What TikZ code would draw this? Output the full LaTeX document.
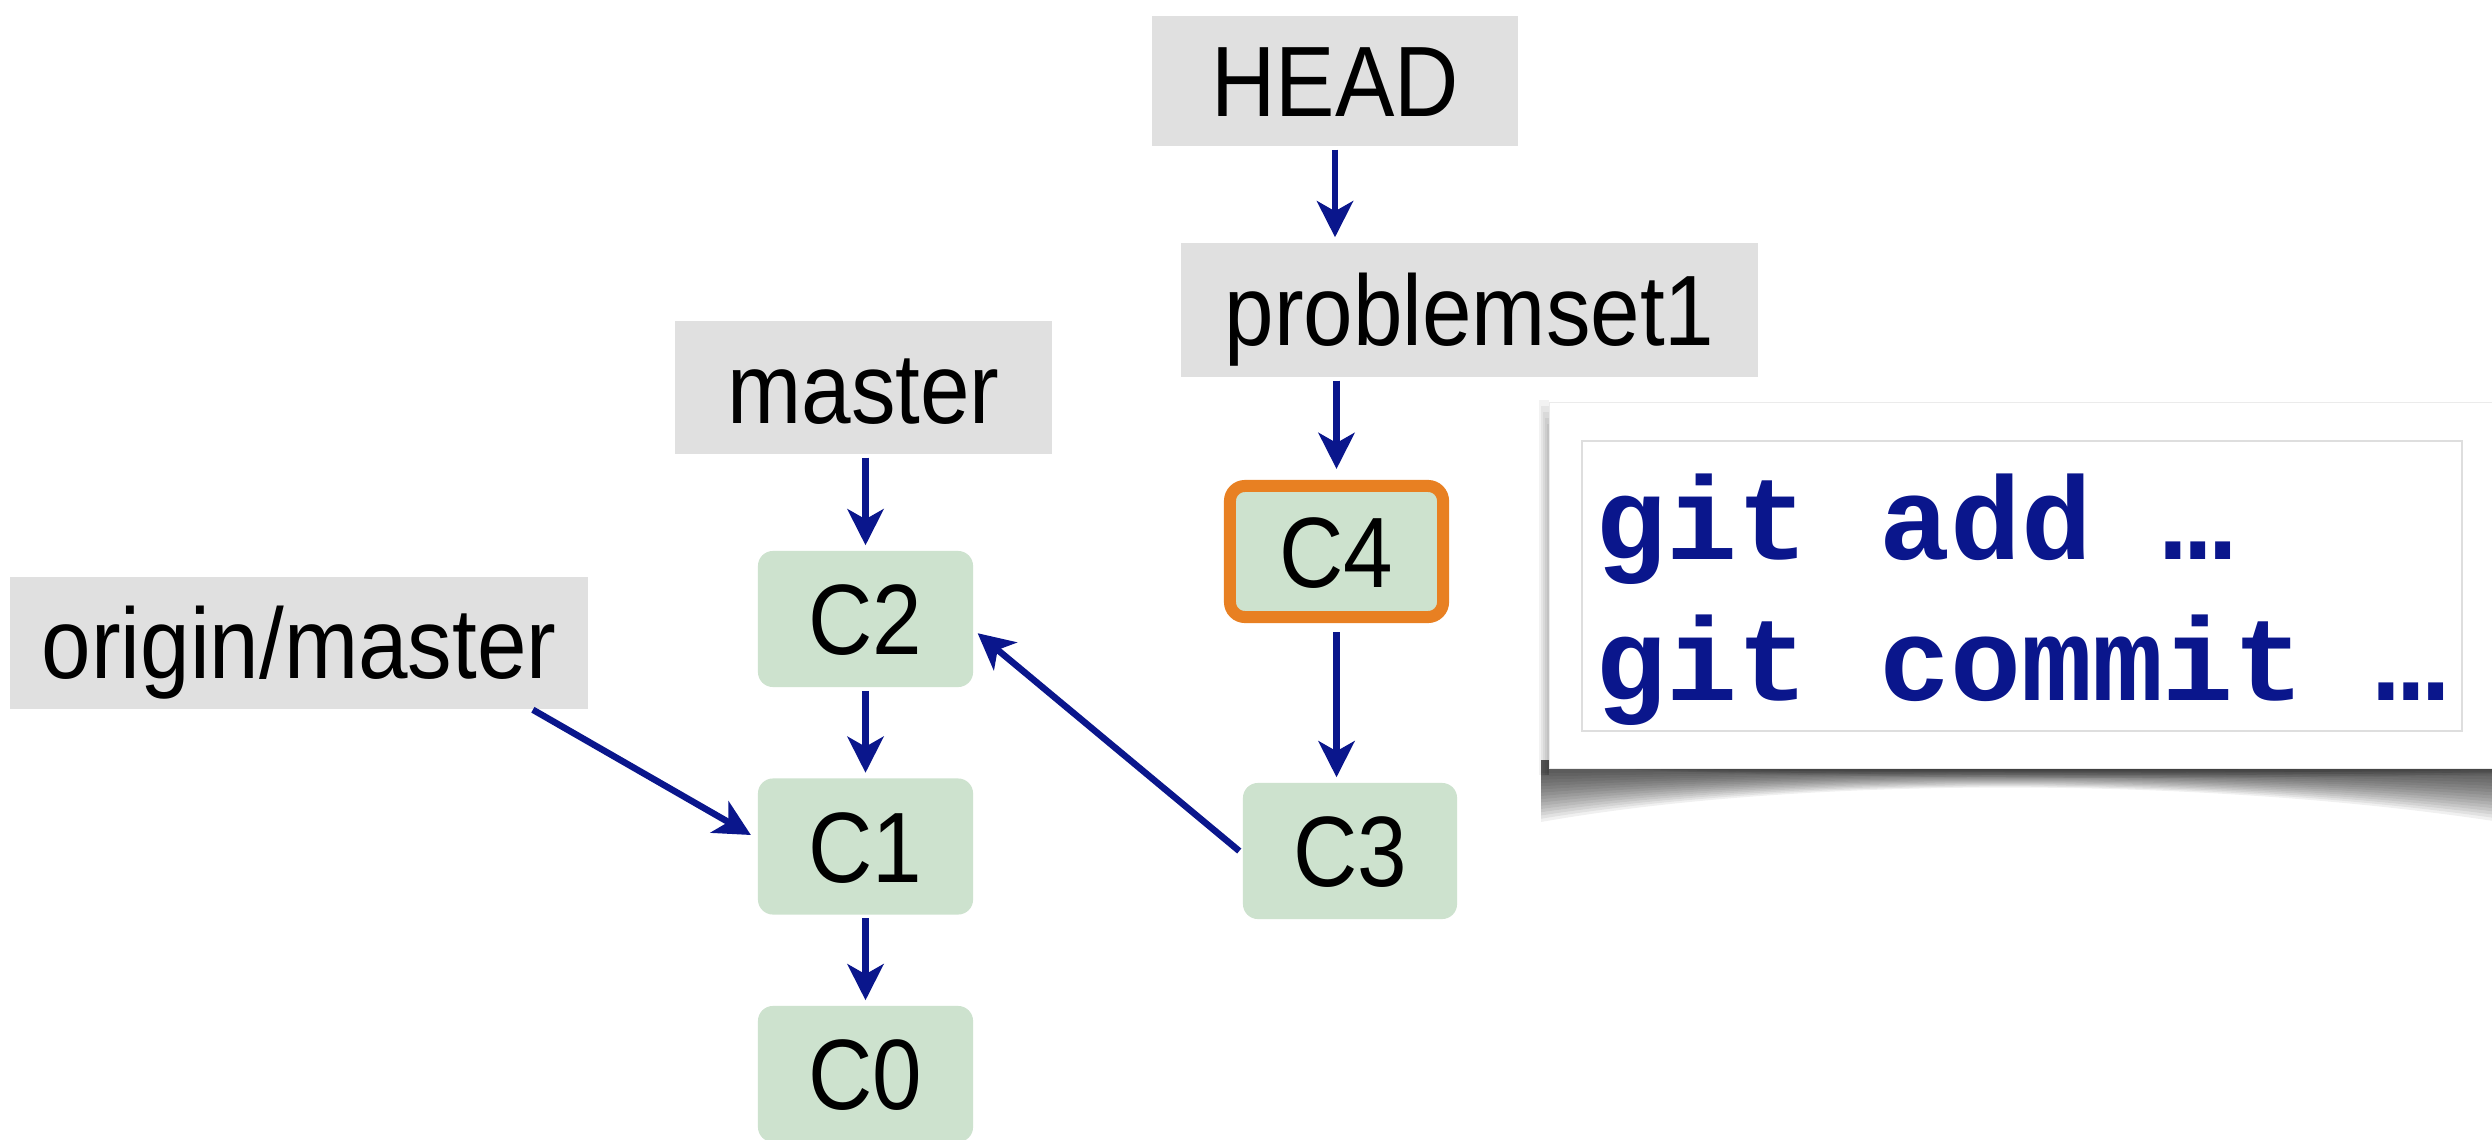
\documentclass[tikz,border=0pt]{standalone}
\usepackage{fontspec}
\newfontfamily\labfont[FakeStretch=0.89]{Liberation Sans}
\newfontfamily\codefont{Liberation Mono}
\usetikzlibrary{arrows.meta,calc}
\definecolor{navy}{RGB}{10,22,140}
\definecolor{refgray}{RGB}{224,224,224}
\definecolor{commitgreen}{RGB}{205,226,206}
\definecolor{orng}{RGB}{232,128,34}
\definecolor{framegray}{RGB}{222,222,222}
\tikzset{
  reflabel/.style={fill=refgray, inner sep=0pt,
    font=\labfont\fontsize{28.45}{30}\selectfont, text height=20.4pt, text depth=0pt},
  commit/.style={fill=commitgreen, rounded corners=0.15cm, minimum width=2.15cm,
    minimum height=1.36cm, inner sep=0pt,
    font=\labfont\fontsize{28.45}{30}\selectfont, text height=20.4pt, text depth=0pt},
  arr/.style={draw=navy, line width=0.065cm,
    -{Stealth[length=0.36cm, width=0.36cm, inset=0.1cm]},
    shorten <=0.03cm, shorten >=0.05cm},
  codeline/.style={font=\codefont\bfseries\fontsize{33.6}{36}\selectfont,
    text=navy, inner sep=0pt, anchor=base west}
}
\begin{document}
\begin{tikzpicture}[x=0.01cm, y=-0.01cm]
\useasboundingbox (0,0) rectangle (2492,1140);
\fill[white] (0,0) rectangle (2492,1140);

% ---- code panel with curled shadow ----
\foreach \i in {1,...,16}{
  \pgfmathsetmacro{\f}{\i/16}
  \fill[black, opacity=0.06]
    (1541,760) -- (1541,{770+52*\f})
    .. controls (1800,{770+6*\f}) and (2200,{770+6*\f}) .. (2500,{770+52*\f})
    -- (2500,760) -- cycle;
}
\foreach \i in {1,...,4}{
  \fill[black, opacity=0.08]
    (1560,766) .. controls (1800,{768+3*\i}) and (2200,{768+3*\i}) .. (2500,{766+2*\i})
    -- (2500,766) -- cycle;
}
\foreach \i in {1,...,5}{
  \fill[black, opacity=0.05] ({1549-2*\i},{430-6*\i}) rectangle (1549,775);
}
\node[fill=white, draw=framegray!60, line width=0.01cm, inner sep=0pt,
      minimum width=9.8cm, minimum height=3.66cm, anchor=north west]
      (panel) at (1549,402) {};
\node[draw=framegray, line width=0.02cm, inner sep=0pt,
      minimum width=8.79cm, minimum height=2.9cm, anchor=north west]
      (codeframe) at (1581,440) {};
\node[codeline] (l1) at (1595,559) {git add …};
\node[codeline] (l2) at (1595,700) {git commit …};

% ---- reference labels ----
\node[reflabel, minimum width=3.66cm, minimum height=1.30cm] (head) at (1335,81) {HEAD};
\node[reflabel, minimum width=5.77cm, minimum height=1.34cm] (ps1) at (1469.5,310) {problemset1};
\node[reflabel, minimum width=3.77cm, minimum height=1.33cm] (master) at (863.5,387.5) {master};
\node[reflabel, minimum width=5.78cm, minimum height=1.32cm] (om) at (299,643) {origin/master};

% ---- commits ----
\node[commit] (c2) at (865.5,619) {C2};
\node[commit] (c1) at (865.5,846.5) {C1};
\node[commit] (c0) at (865.5,1074) {C0};
\node[commit, draw=orng, line width=0.12cm, minimum width=2.13cm, minimum height=1.31cm] (c4) at (1336.5,551.5) {C4};
\node[commit, minimum width=2.14cm] (c3) at (1350,851) {C3};

% ---- connectors ----
\draw[arr] (head.south) -- (head.south |- ps1.north);
\draw[arr] (c4.north |- ps1.south) -- ([yshift=0.06cm]c4.north);
\draw[arr] (c2.north |- master.south) -- (c2.north);
\draw[arr] (c2.south) -- (c1.north);
\draw[arr] (c1.south) -- (c0.north);
\draw[arr, shorten <=0.09cm] (c4.south) -- (c4.south |- c3.north);
\draw[arr, shorten <=0.0cm] ([xshift=-0.03cm]c3.west) -- ($(c2.east)+(0,11)$);
\draw[arr, shorten <=0.0cm] ($(om.south east)+(-56,0)$) -- ($(c1.west)+(-2,-9)$);
\end{tikzpicture}
\end{document}
